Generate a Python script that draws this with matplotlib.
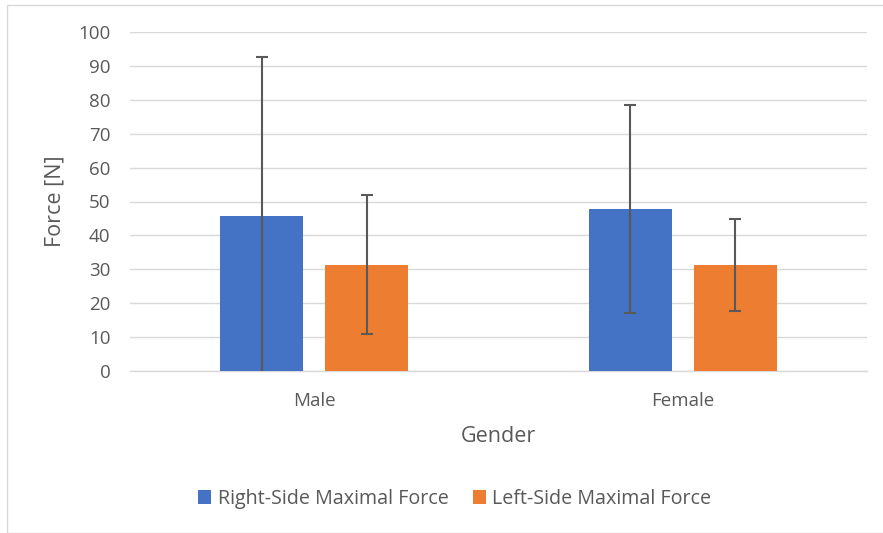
import matplotlib
matplotlib.use("Agg")
import matplotlib.pyplot as plt
from matplotlib.patches import Rectangle
import numpy as np

plt.rcParams['font.family'] = ['Open Sans', 'DejaVu Sans']

categories = ["Male", "Female"]
right_force = [45.7, 47.8]
right_sd = [47.0, 30.7]
left_force = [31.4, 31.2]
left_sd = [20.5, 13.5]
series_names = ["Right-Side Maximal Force", "Left-Side Maximal Force"]
yticks = list(range(0, 101, 10))

blue = "#4472C4"
orange = "#ED7D31"
text_col = "#595959"
grid_col = "#D9D9D9"

W, H = 883, 533
fig = plt.figure(figsize=(W / 100, H / 100), dpi=100)

# chart-area border
fig.patches.append(Rectangle((7 / W, 0), 1.0, (H - 5) / H, transform=fig.transFigure,
                             fill=False, edgecolor=grid_col, linewidth=1.0))

ax = fig.add_axes([130 / W, (H - 371) / H, (867 - 130) / W, (371 - 32) / H])
x = np.arange(len(categories))
width = 0.225
offset = 0.143

err_kw = dict(ecolor=text_col, elinewidth=1.5, capsize=4, capthick=1.5)
ax.bar(x - offset, right_force, width, color=blue, label=series_names[0],
       yerr=right_sd, error_kw=err_kw, zorder=3)
ax.bar(x + offset, left_force, width, color=orange, label=series_names[1],
       yerr=left_sd, error_kw=err_kw, zorder=3)

ax.set_xlim(-0.5, 1.5)
ax.set_ylim(0, 100)
ax.set_yticks(yticks)
ax.set_xticks(x)
ax.set_xticklabels(categories)
ax.yaxis.grid(True, color=grid_col, linewidth=1.0, zorder=0)
ax.set_axisbelow(True)
for s in ["top", "right", "left"]:
    ax.spines[s].set_visible(False)
ax.spines["bottom"].set_color(grid_col)
ax.spines["bottom"].set_linewidth(1.0)
ax.tick_params(axis="both", length=0, labelsize=13.5, colors=text_col)
ax.tick_params(axis="y", pad=14)
ax.tick_params(axis="x", pad=15)

ax.set_xlabel("Gender", fontsize=15.5, color=text_col, labelpad=12)
ax.set_ylabel("Force [N]", fontsize=15.5, color=text_col, labelpad=9)

leg = fig.legend(loc="center", bbox_to_anchor=(455 / W, (H - 499) / H), ncol=2,
                 frameon=False, fontsize=14.2, handlelength=0.65, handleheight=0.65,
                 handletextpad=0.35, columnspacing=1.2)
for t in leg.get_texts():
    t.set_color(text_col)

fig.savefig("out.png", dpi=100)
